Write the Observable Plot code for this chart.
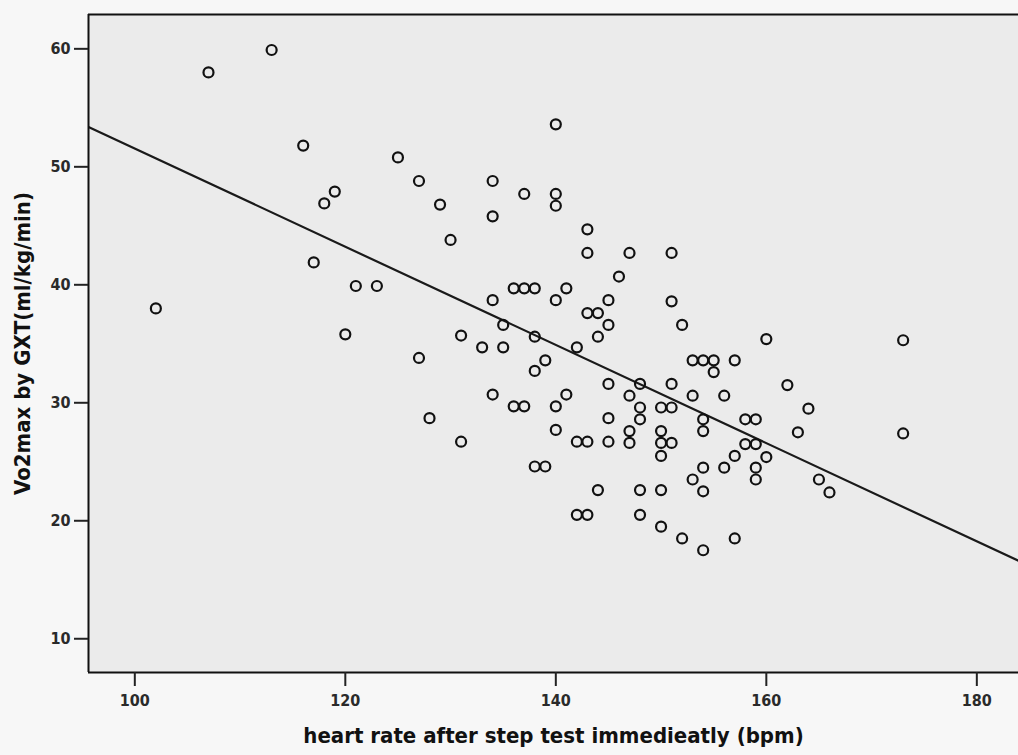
<!DOCTYPE html>
<html>
<head>
<meta charset="utf-8">
<script src="https://cdn.jsdelivr.net/npm/d3@7"></script>
<script src="https://cdn.jsdelivr.net/npm/@observablehq/plot@0.6"></script>
<style>
  html, body { margin: 0; padding: 0; background: #f7f7f7; }
  #chart svg { display: block; }
</style>
</head>
<body>
<div id="chart"></div>
<script>
// Heart rate right after the step test (bpm), one entry per subject
const heartRate = [
  102, 107, 113, 116, 117, 118, 119, 120, 121, 123,
  125, 127, 127, 128, 129, 130, 131, 131, 133, 134,
  134, 134, 134, 135, 135, 136, 136, 137, 137, 137,
  138, 138, 138, 138, 139, 139, 140, 140, 140, 140,
  140, 140, 141, 141, 142, 142, 142, 143, 143, 143,
  143, 143, 144, 144, 144, 145, 145, 145, 145, 145,
  146, 147, 147, 147, 147, 148, 148, 148, 148, 148,
  150, 150, 150, 150, 150, 150, 151, 151, 151, 151,
  151, 152, 152, 153, 153, 153, 154, 154, 154, 154,
  154, 154, 155, 155, 156, 156, 157, 157, 157, 158,
  158, 159, 159, 159, 159, 160, 160, 162, 163, 164,
  165, 166, 173, 173
];

// VO2max measured by graded exercise test (ml/kg/min), same order
const vo2max = [
  38.0, 58.0, 59.9, 51.8, 41.9, 46.9, 47.9, 35.8, 39.9, 39.9,
  50.8, 48.8, 33.8, 28.7, 46.8, 43.8, 35.7, 26.7, 34.7, 48.8,
  45.8, 38.7, 30.7, 36.6, 34.7, 39.7, 29.7, 47.7, 39.7, 29.7,
  39.7, 35.6, 32.7, 24.6, 33.6, 24.6, 53.6, 47.7, 46.7, 38.7,
  29.7, 27.7, 39.7, 30.7, 34.7, 26.7, 20.5, 26.7, 20.5, 44.7,
  42.7, 37.6, 37.6, 35.6, 22.6, 38.7, 36.6, 31.6, 28.7, 26.7,
  40.7, 42.7, 30.6, 27.6, 26.6, 31.6, 29.6, 28.6, 22.6, 20.5,
  29.6, 27.6, 26.6, 25.5, 22.6, 19.5, 42.7, 38.6, 31.6, 29.6,
  26.6, 36.6, 18.5, 33.6, 30.6, 23.5, 33.6, 28.6, 27.6, 24.5,
  22.5, 17.5, 33.6, 32.6, 30.6, 24.5, 33.6, 25.5, 18.5, 28.6,
  26.5, 28.6, 26.5, 24.5, 23.5, 35.4, 25.4, 31.5, 27.5, 29.5,
  23.5, 22.4, 35.3, 27.4
];

// Fitted least-squares line: vo2max = intercept + slope * heartRate
const fitIntercept = 93.17;
const fitSlope = -0.4162;

const xTicks = [100, 120, 140, 160, 180];
const yTicks = [10, 20, 30, 40, 50, 60];

const xTitle = "heart rate after step test immedieatly (bpm)";
const yTitle = "Vo2max by GXT(ml/kg/min)";

const xDomain = [95.6, 183.96];
const yDomain = [7.14, 62.91];

const points = heartRate.map((hr, i) => ({hr, vo2: vo2max[i]}));
const fitLine = xDomain.map(hr => ({hr, vo2: fitIntercept + fitSlope * hr}));

const font = "'DejaVu Sans Condensed', 'DejaVu Sans', sans-serif";

const chart = Plot.plot({
  width: 1018,
  height: 755,
  marginLeft: 88,
  marginRight: 0,
  marginTop: 14,
  marginBottom: 83,
  style: {
    background: "#f7f7f7",
    fontFamily: font,
    fontSize: "16px",
    color: "#222"
  },
  x: {domain: xDomain},
  y: {domain: yDomain},
  marks: [
    Plot.frame({fill: "#ebebeb", stroke: null}),
    Plot.line(fitLine, {x: "hr", y: "vo2", stroke: "#1a1a1a", strokeWidth: 2.2, clip: true}),
    Plot.dot(points, {x: "hr", y: "vo2", r: 5, stroke: "#111", strokeWidth: 2.2, fill: "none"}),
    Plot.ruleX([xDomain[0]], {stroke: "#111", strokeWidth: 2}),
    Plot.ruleY([yDomain[0], yDomain[1]], {stroke: "#111", strokeWidth: 2}),
    Plot.axisX({ticks: xTicks, tickSize: 14, tickPadding: 8, strokeWidth: 2,
      label: xTitle, labelAnchor: "center", labelArrow: "none", labelOffset: 70}),
    Plot.axisY({ticks: yTicks, tickSize: 14, tickPadding: 4, strokeWidth: 2,
      label: yTitle, labelAnchor: "center", labelArrow: "none", labelOffset: 74})
  ]
});

// Semi-heavy tick labels
chart.querySelectorAll("g[aria-label='x-axis tick label'] text, g[aria-label='y-axis tick label'] text").forEach(t => {
  t.setAttribute("font-weight", "bold");
  t.setAttribute("font-size", "16px");
  t.setAttribute("fill", "#2a2a2a");
});

// Bold, larger axis titles
chart.querySelectorAll("g[aria-label='x-axis label'] text, g[aria-label='y-axis label'] text").forEach(t => {
  t.setAttribute("font-weight", "bold");
  t.setAttribute("font-size", "22px");
  t.setAttribute("fill", "#111");
});

document.getElementById("chart").appendChild(chart);
</script>
</body>
</html>
